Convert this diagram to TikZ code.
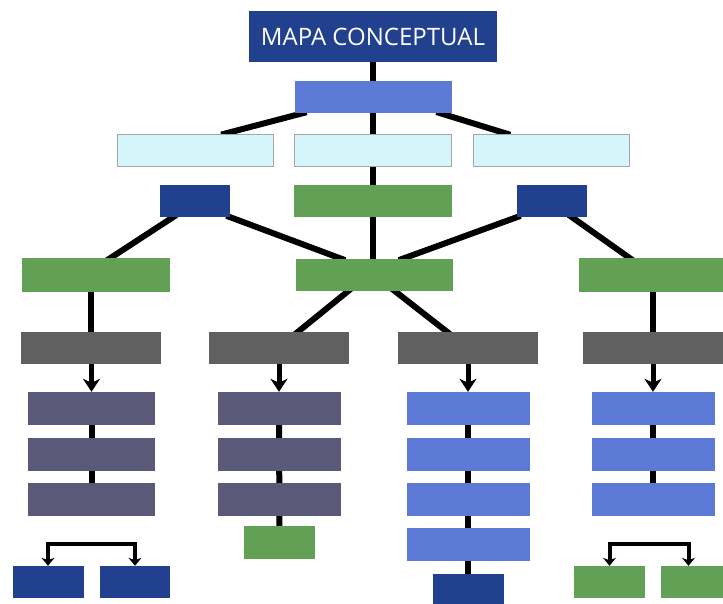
\documentclass[tikz,border=0pt]{standalone}
\usepackage{fontspec}
\newfontfamily\titlefont{Open Sans}
\usepackage{tikz}
\usetikzlibrary{calc}
\usetikzlibrary{backgrounds}
\usetikzlibrary{arrows.meta}

\definecolor{darkblue}{HTML}{21418E}
\definecolor{midblue}{HTML}{5C79D6}
\definecolor{paleblue}{HTML}{D4F5FA}
\definecolor{leafgreen}{HTML}{62A055}
\definecolor{darkgray}{HTML}{606060}
\definecolor{slate}{HTML}{5A5978}

\begin{document}
\begin{tikzpicture}[x=1pt,y=-1pt,
		box/.style={inner sep=0pt,minimum height=32pt},
		conn/.style={line width=6pt,shorten <=-4pt,shorten >=-4pt},
		down/.style={line width=5pt,-{Stealth[length=13pt,width=17pt,inset=4pt]}},
		brk/.style={line width=4pt,{Stealth[length=8pt,width=13pt,inset=2.5pt]}-{Stealth[length=8pt,width=13pt,inset=2.5pt]}}]
				\useasboundingbox (0,0) rectangle (723,604);

				\node[box,fill=darkblue,minimum width=248pt,minimum height=51pt,text=white,font=\titlefont\fontsize{24}{28}\selectfont](title) at (373,36.5){MAPA CONCEPTUAL};
				\node[box,fill=midblue,minimum width=157pt](top) at (373.5,97){};

				\node[box,fill=paleblue,draw=gray!70,line width=0.8pt,minimum width=156pt](c1) at (195,150){};
				\node[box,fill=paleblue,draw=gray!70,line width=0.8pt,minimum width=157pt](c2) at (373,150){};
				\node[box,fill=paleblue,draw=gray!70,line width=0.8pt,minimum width=156pt](c3) at (551.5,150){};

				\node[box,fill=darkblue,minimum width=70pt](d1) at (195,201){};
				\node[box,fill=leafgreen,minimum width=158pt](g0) at (373,201){};
				\node[box,fill=darkblue,minimum width=70pt](d2) at (552,201){};

				\node[box,fill=leafgreen,minimum width=148pt,minimum height=33pt](gl) at (96,275){};
				\node[box,fill=leafgreen,minimum width=157pt](gc) at (374.5,275){};
				\node[box,fill=leafgreen,minimum width=144pt,minimum height=33pt](gr) at (651,275){};

				\node[box,fill=darkgray,minimum width=140pt](k1) at (91,348){};
				\node[box,fill=darkgray,minimum width=140pt](k2) at (279,348){};
				\node[box,fill=darkgray,minimum width=140pt](k3) at (468,348){};
				\node[box,fill=darkgray,minimum width=140pt](k4) at (653,348){};

				\node[box,fill=slate,minimum width=127pt,minimum height=33pt](p11) at (91.5,408.5){};
				\node[box,fill=slate,minimum width=127pt,minimum height=33pt](p12) at (91.5,454.5){};
				\node[box,fill=slate,minimum width=127pt,minimum height=33pt](p13) at (91.5,499.5){};
				\node[box,fill=darkblue,minimum width=71pt](e11) at (48,582){};
				\node[box,fill=darkblue,minimum width=70pt](e12) at (135,582){};

				\node[box,fill=slate,minimum width=123pt,minimum height=33pt](p21) at (279,408.5){};
				\node[box,fill=slate,minimum width=123pt,minimum height=33pt](p22) at (279,454.5){};
				\node[box,fill=slate,minimum width=123pt,minimum height=33pt](p23) at (279,499.5){};
				\node[box,fill=leafgreen,minimum width=71pt,minimum height=33pt](e2) at (279.5,542.5){};

				\node[box,fill=midblue,minimum width=123pt,minimum height=33pt](b31) at (468,408.5){};
				\node[box,fill=midblue,minimum width=123pt,minimum height=33pt](b32) at (468,454.5){};
				\node[box,fill=midblue,minimum width=123pt,minimum height=33pt](b33) at (468,499.5){};
				\node[box,fill=midblue,minimum width=123pt,minimum height=33pt](b34) at (468,544.5){};
				\node[box,fill=darkblue,minimum width=71pt,minimum height=30pt](e3) at (468,589){};

				\node[box,fill=midblue,minimum width=123pt,minimum height=33pt](b41) at (653,408.5){};
				\node[box,fill=midblue,minimum width=123pt,minimum height=33pt](b42) at (653,454.5){};
				\node[box,fill=midblue,minimum width=123pt,minimum height=33pt](b43) at (653,499.5){};
				\node[box,fill=leafgreen,minimum width=71pt](e41) at (609.5,582){};
				\node[box,fill=leafgreen,minimum width=62pt](e42) at (692,582){};

				\begin{pgfonlayer}{background}
				\draw[conn] (title.south) -- (title.south |- gc.north);
				\draw[conn] ($(top.south west)+(8,0)$) -- ($(c1.north)+(30,0)$);
				\draw[conn] ($(top.south east)+(-12,0)$) -- ($(c3.north)+(-45,0)$);
				\draw[conn] ($(d1.south)+(-22,0)$) -- ($(gl.north)+(14,0)$);
				\draw[conn] (d1.south east) -- ($(gc.north)+(-33,0)$);
				\draw[conn] (d2.south west) -- ($(gc.north)+(28,0)$);
				\draw[conn] ($(d2.south)+(20,0)$) -- ($(gr.north)+(-21,0)$);
				\draw[conn] ($(gc.south)+(-26.5,0)$) -- ($(k2.north)+(19,0)$);
				\draw[conn] ($(gc.south)+(20.5,0)$) -- ($(k3.north)+(-21,0)$);
				\draw[conn] (k1.north) -- (k1.north |- gl.south);
				\draw[conn] (k4.north) -- (k4.north |- gr.south);
				\draw[conn] (p11.center) -- (p13.center);
				\draw[conn] (p21.center) -- (e2.center);
				\draw[conn] (b31.center) -- (e3.center);
				\draw[conn] (b41.center) -- (b43.center);
				\end{pgfonlayer}

				\draw[down] (p11.north |- k1.south) -- (p11.north);
				\draw[down] (p21.north |- k2.south) -- (p21.north);
				\draw[down] (b31.north |- k3.south) -- (b31.north);
				\draw[down] (b41.north |- k4.south) -- (b41.north);

				\draw[brk] (e11.north) -- ++(0,-22) -| (e12.north);
				\draw[brk] (e41.north) -- ++(0,-22) -| ($(e42.north)+(-3.5,0)$);

			\end{tikzpicture}
\end{document}
